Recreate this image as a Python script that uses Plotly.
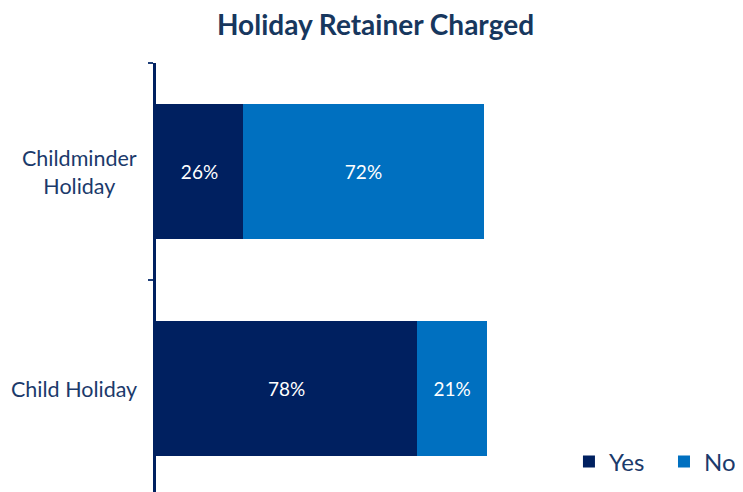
import plotly.graph_objects as go

categories = ["Child Holiday", "Childminder Holiday"]
category_labels = ["Child Holiday", "Childminder<br>Holiday"]
yes_values = [78, 26]
no_values = [21, 72]
series_names = ["Yes", "No"]

FONT = "Lato"
TEXT_COL = "#1B3A6B"

fig = go.Figure()
fig.add_trace(go.Bar(
    y=categories, x=yes_values, name=series_names[0], orientation="h",
    marker=dict(color="#002060", line=dict(width=0)),
    text=[f"{v}%" for v in yes_values], textposition="inside", insidetextanchor="middle",
    textfont=dict(color="white", size=19, family=FONT), legend="legend",
))
fig.add_trace(go.Bar(
    y=categories, x=no_values, name=series_names[1], orientation="h",
    marker=dict(color="#0070C0", line=dict(width=0)),
    text=[f"{v}%" for v in no_values], textposition="inside", insidetextanchor="middle",
    textfont=dict(color="white", size=19, family=FONT), legend="legend2",
))

for cat, lab in zip(categories, category_labels):
    fig.add_annotation(
        x=0, xref="paper", y=cat, yref="y", text=lab, showarrow=False,
        xanchor="right", align="center", xshift=-17,
        font=dict(size=21.5, color=TEXT_COL, family=FONT),
    )

legend_common = dict(orientation="h", y=0.081, yanchor="middle", xanchor="left",
                     font=dict(size=24, color=TEXT_COL, family=FONT),
                     itemwidth=30, bgcolor="rgba(0,0,0,0)")

fig.update_layout(
    width=735, height=489,
    barmode="stack", bargap=0.378,
    plot_bgcolor="white", paper_bgcolor="white",
    margin=dict(l=148, r=0, t=55, b=0, autoexpand=False),
    title=dict(text="<b>Holiday Retainer Charged</b>", x=0.5, xanchor="center",
               y=1 - 17 / 489, yanchor="middle",
               font=dict(size=28, color="#17375E", family=FONT)),
    xaxis=dict(range=[0, 175.4], visible=False, fixedrange=True),
    yaxis=dict(type="category", showticklabels=False, showline=True, linewidth=3,
               linecolor="#002060", ticks="outside", ticklen=5, tickwidth=2,
               tickcolor="#1F3F7A", tickson="boundaries", showgrid=False,
               zeroline=False),
    legend=dict(x=0.7035, **legend_common),
    legend2=dict(x=0.8654, **legend_common),
    showlegend=True,
)

fig.write_html("out.html")
